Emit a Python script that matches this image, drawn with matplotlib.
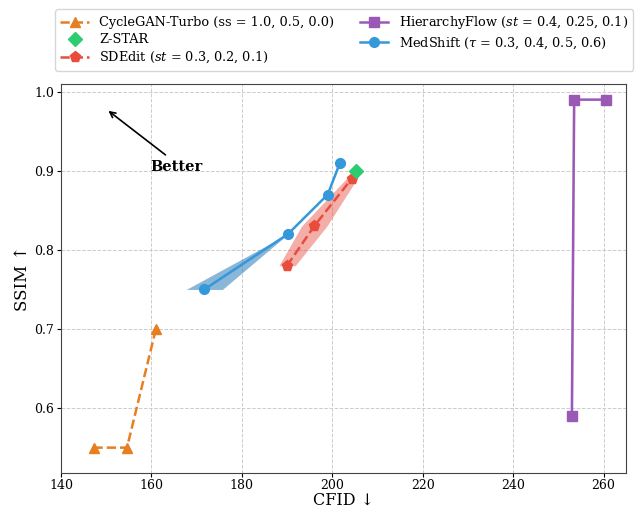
import matplotlib
matplotlib.use("Agg")
import matplotlib.pyplot as plt
import numpy as np

plt.rcParams['font.family'] = ['DejaVu Serif']
plt.rcParams['mathtext.fontset'] = 'dejavuserif'

cyc_x = [147.2, 154.6, 161.0]
cyc_y = [0.55, 0.55, 0.70]
zstar_x = [205.3]
zstar_y = [0.90]
sde_x = [190.0, 196.0, 204.3]
sde_y = [0.78, 0.83, 0.89]
sde_err = [1.8, 2.8, 1.2]
hf_x = [260.5, 253.5, 253.0]
hf_y = [0.99, 0.99, 0.59]
hf_err = [0.2, 0.2, 0.2]
med_x = [171.7, 190.2, 199.0, 201.7]
med_y = [0.75, 0.82, 0.87, 0.91]
med_err = [4.0, 0.0, 0.0, 0.0]

c_orange = '#e67e22'
c_green = '#2ecc71'
c_red = '#e74c3c'
c_purple = '#9b59b6'
c_blue = '#3498db'

fig = plt.figure(figsize=(6.35, 5.08), dpi=100)
ax = fig.add_axes([0.096, 0.069, 0.890, 0.766])

ax.plot(cyc_x, cyc_y, '--', color=c_orange, marker='^', ms=7.5, lw=1.8,
        label='CycleGAN-Turbo (ss = 1.0, 0.5, 0.0)')
ax.plot(zstar_x, zstar_y, 'D', color=c_green, ms=7, label='Z-STAR', zorder=5)
ax.fill_betweenx(sde_y, np.array(sde_x) - np.array(sde_err), np.array(sde_x) + np.array(sde_err),
                 color=c_red, alpha=0.45, lw=0)
ax.plot(sde_x, sde_y, '--', color=c_red, marker='p', ms=8, lw=1.8,
        label='SDEdit ($st$ = 0.3, 0.2, 0.1)')
ax.fill_betweenx(hf_y, np.array(hf_x) - np.array(hf_err), np.array(hf_x) + np.array(hf_err),
                 color=c_purple, alpha=0.3, lw=0)
ax.plot(hf_x, hf_y, '-', color=c_purple, marker='s', ms=7, lw=1.8,
        label='HierarchyFlow ($st$ = 0.4, 0.25, 0.1)')
ax.fill_betweenx(med_y, np.array(med_x) - np.array(med_err), np.array(med_x) + np.array(med_err),
                 color='#2a7ab8', alpha=0.55, lw=0)
ax.plot(med_x, med_y, '-', color=c_blue, marker='o', ms=7, lw=1.8,
        label='MedShift ($\\tau$ = 0.3, 0.4, 0.5, 0.6)')

ax.annotate('', xy=(150.0, 0.978), xytext=(163.6, 0.918),
            arrowprops=dict(arrowstyle='->', color='black', lw=1.2))
ax.text(159.8, 0.905, 'Better', fontsize=10.5, fontweight='bold', va='center', ha='left')

ax.set_xlim(140, 265)
ax.set_ylim(0.518, 1.01)
ax.set_xticks([140, 160, 180, 200, 220, 240, 260])
ax.set_yticks([0.6, 0.7, 0.8, 0.9, 1.0])
ax.tick_params(labelsize=9, length=3, pad=2)
ax.tick_params(axis='x', pad=1.6)
ax.grid(True, linestyle='--', color='#cccccc', lw=0.7)
ax.set_axisbelow(True)
for s in ax.spines.values():
    s.set_color('#444444')
ax.set_xlabel('CFID ↓', fontsize=11.5, labelpad=-0.6)
ax.set_ylabel('SSIM ↑', fontsize=12, labelpad=2)

h, l = ax.get_legend_handles_labels()
fig.legend(h, l, loc='upper center', bbox_to_anchor=(0.542, 0.995), ncol=2,
           fontsize=9.3, frameon=True, handlelength=2.2, columnspacing=2.0,
           borderpad=0.4, labelspacing=0.3)

fig.savefig('out.png', dpi=100)
